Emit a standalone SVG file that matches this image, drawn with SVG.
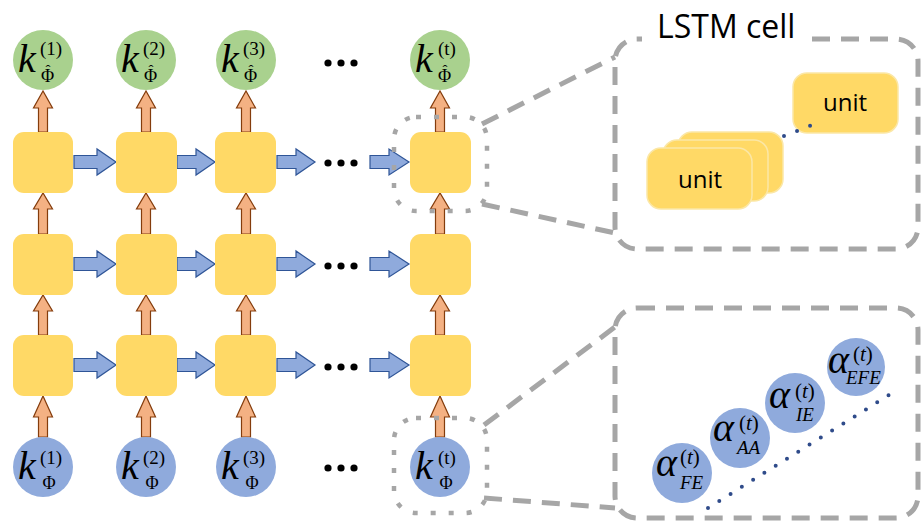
<svg xmlns="http://www.w3.org/2000/svg" width="921" height="525" viewBox="0 0 921 525">
<defs>
<style>
.sq{fill:#ffd966;}
.gc{fill:#a9d18e;}
.bc{fill:#8faadc;}
.oa{fill:#f4b183;stroke:#843c0c;stroke-width:1.2;stroke-linejoin:miter;}
.ba{fill:#8faadc;stroke:#2f5597;stroke-width:1.2;stroke-linejoin:miter;}
.dot{fill:#000;}
.dotted{fill:none;stroke:#a6a6a6;stroke-width:4.5;stroke-dasharray:5 13;}
.dashed{fill:none;stroke:#a6a6a6;stroke-width:5;stroke-dasharray:18 11;}
.bdots{fill:none;stroke:#2f4b8a;stroke-width:4;stroke-linecap:round;stroke-dasharray:0 13.3;}
.unit{fill:#ffd966;stroke:#fbe7a6;stroke-width:1.5;}
.m{font-family:"Liberation Serif","Times New Roman","DejaVu Serif",serif;fill:#000;}
.k{font-style:italic;font-size:40px;}
.sup{font-size:19px;}
.sub{font-size:18px;}
.hat{font-size:15px;}
.a{font-style:italic;font-size:40px;}
.asup{font-size:21px;}
.asub{font-style:italic;font-size:19px;}
.lbl{font-family:"Open Sans","Noto Sans","Liberation Sans",sans-serif;fill:#000;}
</style>
</defs>
<rect width="921" height="525" fill="#ffffff"/>

<g id="connectors">
<path class="oa" d="M38.5 132V108H33.5L43 91L52.5 108H47.5V132Z"/>
<path class="oa" d="M38.5 234V209H33.5L43 193L52.5 209H47.5V234Z"/>
<path class="oa" d="M38.5 335V311H33.5L43 295L52.5 311H47.5V335Z"/>
<path class="oa" d="M38.5 437V417H33.5L43 396L52.5 417H47.5V437Z"/>
<path class="oa" d="M141.5 132V108H136.5L146 91L155.5 108H150.5V132Z"/>
<path class="oa" d="M141.5 234V209H136.5L146 193L155.5 209H150.5V234Z"/>
<path class="oa" d="M141.5 335V311H136.5L146 295L155.5 311H150.5V335Z"/>
<path class="oa" d="M141.5 437V417H136.5L146 396L155.5 417H150.5V437Z"/>
<path class="oa" d="M241.5 132V108H236.5L246 91L255.5 108H250.5V132Z"/>
<path class="oa" d="M241.5 234V209H236.5L246 193L255.5 209H250.5V234Z"/>
<path class="oa" d="M241.5 335V311H236.5L246 295L255.5 311H250.5V335Z"/>
<path class="oa" d="M241.5 437V417H236.5L246 396L255.5 417H250.5V437Z"/>
<path class="oa" d="M435.5 132V108H430.5L440 91L449.5 108H444.5V132Z"/>
<path class="oa" d="M435.5 234V209H430.5L440 193L449.5 209H444.5V234Z"/>
<path class="oa" d="M435.5 335V311H430.5L440 295L449.5 311H444.5V335Z"/>
<path class="oa" d="M435.5 437V417H430.5L440 396L449.5 417H444.5V437Z"/>
<path class="ba" d="M74 155.5H97V149L116 162L97 175V168.5H74Z"/>
<path class="ba" d="M177 155.5H196V149L215 162L196 175V168.5H177Z"/>
<path class="ba" d="M277 155.5H296V149L315 162L296 175V168.5H277Z"/>
<path class="ba" d="M370 155.5H389V149L409 162L389 175V168.5H370Z"/>
<path class="ba" d="M74 257.5H97V251L116 264L97 277V270.5H74Z"/>
<path class="ba" d="M177 257.5H196V251L215 264L196 277V270.5H177Z"/>
<path class="ba" d="M277 257.5H296V251L315 264L296 277V270.5H277Z"/>
<path class="ba" d="M370 257.5H389V251L409 264L389 277V270.5H370Z"/>
<path class="ba" d="M74 358.5H97V352L116 365L97 378V371.5H74Z"/>
<path class="ba" d="M177 358.5H196V352L215 365L196 378V371.5H177Z"/>
<path class="ba" d="M277 358.5H296V352L315 365L296 378V371.5H277Z"/>
<path class="ba" d="M370 358.5H389V352L409 365L389 378V371.5H370Z"/>
<g class="dot">
<circle cx="328" cy="63" r="3.6"/><circle cx="341" cy="63" r="3.6"/><circle cx="354" cy="63" r="3.6"/>
<circle cx="328" cy="163" r="3.6"/><circle cx="341" cy="163" r="3.6"/><circle cx="354" cy="163" r="3.6"/>
<circle cx="328" cy="266" r="3.6"/><circle cx="341" cy="266" r="3.6"/><circle cx="354" cy="266" r="3.6"/>
<circle cx="328" cy="367" r="3.6"/><circle cx="341" cy="367" r="3.6"/><circle cx="354" cy="367" r="3.6"/>
<circle cx="328" cy="468" r="3.6"/><circle cx="341" cy="468" r="3.6"/><circle cx="354" cy="468" r="3.6"/>
</g>
<rect class="dotted" x="394" y="117" width="93" height="94" rx="22"/>
<rect class="dotted" x="394" y="418" width="93" height="95" rx="22"/>
<line class="dashed" x1="482" y1="124" x2="615" y2="57"/>
<line class="dashed" x1="482" y1="204" x2="615" y2="233"/>
<line class="dashed" x1="484" y1="425" x2="615" y2="327"/>
<line class="dashed" x1="484" y1="498" x2="615" y2="508"/>
</g>

<g id="row1-nodes">
<rect class="sq" x="13" y="132" width="60" height="61" rx="11"/>
<rect class="sq" x="116" y="132" width="61" height="61" rx="11"/>
<rect class="sq" x="215" y="132" width="61" height="61" rx="11"/>
<rect class="sq" x="410" y="132" width="61" height="61" rx="11"/>
</g>
<g id="row2-nodes">
<rect class="sq" x="13" y="234" width="60" height="61" rx="11"/>
<rect class="sq" x="116" y="234" width="61" height="61" rx="11"/>
<rect class="sq" x="215" y="234" width="61" height="61" rx="11"/>
<rect class="sq" x="410" y="234" width="61" height="61" rx="11"/>
</g>
<g id="row3-nodes">
<rect class="sq" x="13" y="335" width="60" height="61" rx="11"/>
<rect class="sq" x="116" y="335" width="61" height="61" rx="11"/>
<rect class="sq" x="215" y="335" width="61" height="61" rx="11"/>
<rect class="sq" x="410" y="335" width="61" height="61" rx="11"/>
</g>

<g id="out1">
<circle class="gc" cx="43" cy="60" r="30"/>
<text class="m k" x="18" y="72">k</text>
<text class="m sup" x="40" y="55">(1)</text>
<text class="m sub" x="41" y="82">Φ<tspan class="hat" x="45.5" y="75">ˆ</tspan></text>
</g>
<g id="out2">
<circle class="gc" cx="146" cy="60" r="30"/>
<text class="m k" x="121" y="72">k</text>
<text class="m sup" x="143" y="55">(2)</text>
<text class="m sub" x="144" y="82">Φ<tspan class="hat" x="148.5" y="75">ˆ</tspan></text>
</g>
<g id="out3">
<circle class="gc" cx="246" cy="60" r="30"/>
<text class="m k" x="221" y="72">k</text>
<text class="m sup" x="243" y="55">(3)</text>
<text class="m sub" x="244" y="82">Φ<tspan class="hat" x="248.5" y="75">ˆ</tspan></text>
</g>
<g id="outt">
<circle class="gc" cx="440" cy="60" r="30"/>
<text class="m k" x="415" y="72">k</text>
<text class="m sup" x="438" y="55">(t)</text>
<text class="m sub" x="438" y="82">Φ<tspan class="hat" x="442.5" y="75">ˆ</tspan></text>
</g>

<g id="in1">
<circle class="bc" cx="43" cy="467" r="30"/>
<text class="m k" x="18" y="479">k</text>
<text class="m sup" x="40" y="464">(1)</text>
<text class="m sub" x="49" y="489" text-anchor="middle">Φ</text>
</g>
<g id="in2">
<circle class="bc" cx="146" cy="467" r="30"/>
<text class="m k" x="121" y="479">k</text>
<text class="m sup" x="143" y="464">(2)</text>
<text class="m sub" x="152" y="489" text-anchor="middle">Φ</text>
</g>
<g id="in3">
<circle class="bc" cx="246" cy="467" r="30"/>
<text class="m k" x="221" y="479">k</text>
<text class="m sup" x="243" y="464">(3)</text>
<text class="m sub" x="252" y="489" text-anchor="middle">Φ</text>
</g>
<g id="int">
<circle class="bc" cx="440" cy="467" r="30"/>
<text class="m k" x="415" y="479">k</text>
<text class="m sup" x="438" y="464">(t)</text>
<text class="m sub" x="446" y="489" text-anchor="middle">Φ</text>
</g>

<g id="lstm-cell">
<path class="dashed" d="M812 39H896A22 22 0 0 1 918 61V227A22 22 0 0 1 896 249H637A22 22 0 0 1 615 227V61A22 22 0 0 1 637 39H642"/>
<text class="lbl" x="657" y="38" font-size="32">LSTM cell</text>
</g>
<g id="unit-stack">
<rect class="unit" x="678" y="132" width="105" height="61" rx="14"/>
<rect class="unit" x="663" y="140" width="105" height="61" rx="14"/>
<rect class="unit" x="647" y="148" width="105" height="61" rx="14"/>
<text class="lbl" x="700" y="188" font-size="24" text-anchor="middle">unit</text>
</g>
<g id="unit-top">
<rect class="unit" x="793" y="73" width="105" height="60" rx="14"/>
<text class="lbl" x="845" y="111" font-size="24" text-anchor="middle">unit</text>
</g>
<line class="bdots" x1="784" y1="136" x2="812" y2="125" style="stroke-dasharray:0 14"/>

<g id="alpha-box">
<rect class="dashed" x="615" y="308" width="303" height="210" rx="22"/>
<line class="bdots" x1="708" y1="508" x2="897" y2="390"/>
</g>
<g id="alpha-fe">
<circle class="bc" cx="682" cy="473" r="30"/>
<text class="m a" x="656" y="476">α</text>
<text class="m asup" x="680" y="464">(<tspan font-style="italic">t</tspan>)</text>
<text class="m asub" x="680" y="489">FE</text>
</g>
<g id="alpha-aa">
<circle class="bc" cx="740" cy="438" r="30"/>
<text class="m a" x="713" y="441">α</text>
<text class="m asup" x="739" y="430">(<tspan font-style="italic">t</tspan>)</text>
<text class="m asub" x="737" y="454">AA</text>
</g>
<g id="alpha-ie">
<circle class="bc" cx="795" cy="403" r="30"/>
<text class="m a" x="769" y="408">α</text>
<text class="m asup" x="795" y="398">(<tspan font-style="italic">t</tspan>)</text>
<text class="m asub" x="796" y="421">IE</text>
</g>
<g id="alpha-efe">
<circle class="bc" cx="856" cy="367" r="29"/>
<text class="m a" x="828" y="373">α</text>
<text class="m asup" x="853" y="361">(<tspan font-style="italic">t</tspan>)</text>
<text class="m asub" x="846" y="384">EFE</text>
</g>
</svg>
